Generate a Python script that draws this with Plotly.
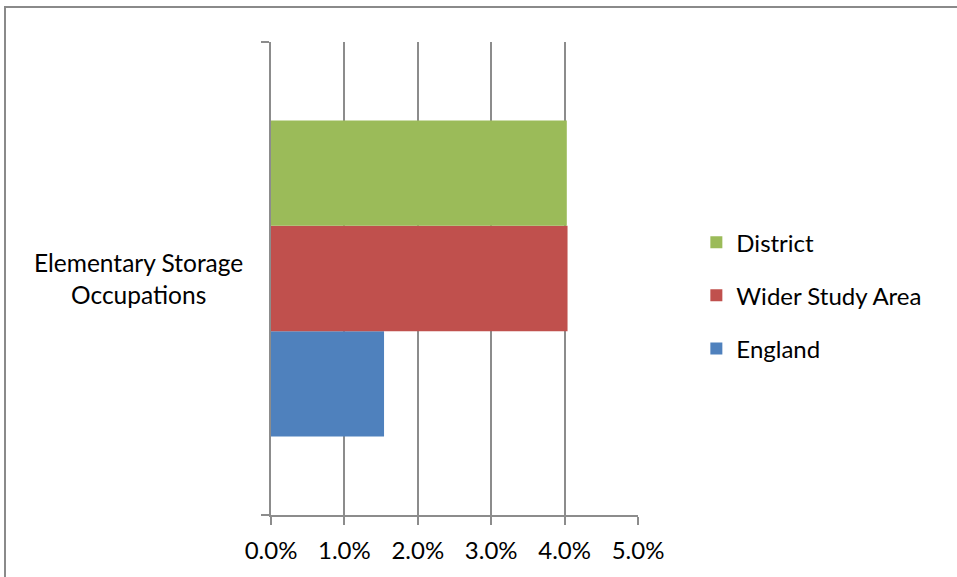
import plotly.graph_objects as go

# Share of employment in one occupation group, by geography
category = ["Elementary Storage Occupations"]
series_names = ["England", "Wider Study Area", "District"]
series_values = [[1.54], [4.04], [4.03]]  # percent
series_colors = ["#4F81BD", "#C0504D", "#9BBB59"]
legend_ranks = [3, 2, 1]  # District listed first
x_ticks = [0, 1, 2, 3, 4, 5]
x_tick_labels = ["0.0%", "1.0%", "2.0%", "3.0%", "4.0%", "5.0%"]

FONT = "Lato"
GRID = "#8c8c8c"
FS = 24

fig = go.Figure()
for name, vals, color, rank in zip(series_names, series_values, series_colors, legend_ranks):
    fig.add_trace(go.Bar(
        y=category, x=vals, name=name, orientation="h",
        marker=dict(color=color, line=dict(width=0)),
        legendgroup=name, legendrank=rank,
    ))

fig.update_layout(
    width=957, height=577,
    margin=dict(l=271, r=319, t=42, b=62),
    paper_bgcolor="white", plot_bgcolor="white",
    barmode="group", bargap=0.332, bargroupgap=0,
    font=dict(family=FONT, size=FS, color="black"),
    showlegend=True,
    legend=dict(
        x=1.159, xanchor="left", y=0.464, yanchor="middle",
        traceorder="grouped", tracegroupgap=19,
        font=dict(family=FONT, size=FS, color="black"),
        bgcolor="rgba(0,0,0,0)",
    ),
    xaxis=dict(
        range=[0, 5], tickvals=x_ticks, ticktext=x_tick_labels,
        showgrid=True, gridcolor=GRID, gridwidth=1.5,
        showline=True, linecolor=GRID, linewidth=1.5,
        ticks="outside", ticklen=8, tickcolor=GRID, tickwidth=1.5,
        ticklabelstandoff=5,
        zeroline=False, fixedrange=True,
        tickfont=dict(family=FONT, size=FS, color="black"),
    ),
    yaxis=dict(
        showticklabels=False, tickson="boundaries",
        ticks="outside", ticklen=8, tickcolor=GRID, tickwidth=1.5,
        showline=True, linecolor=GRID, linewidth=1.5,
        showgrid=False, zeroline=False, fixedrange=True,
    ),
)

# Category label, centred over two lines
fig.add_annotation(
    x=-0.36, xref="paper", y=category[0], yref="y",
    text="Elementary Storage<br>Occupations", showarrow=False,
    xanchor="center", yanchor="middle", align="center",
    font=dict(family=FONT, size=FS + 0.5, color="black"),
)

# Chart frame
fig.add_shape(
    type="rect", xref="paper", yref="paper",
    x0=-0.7248, x1=2.0, y0=-1.0, y1=1.074,
    line=dict(color="#8a8a8a", width=2), fillcolor="rgba(0,0,0,0)",
    layer="below",
)

fig.write_html("out.html")
